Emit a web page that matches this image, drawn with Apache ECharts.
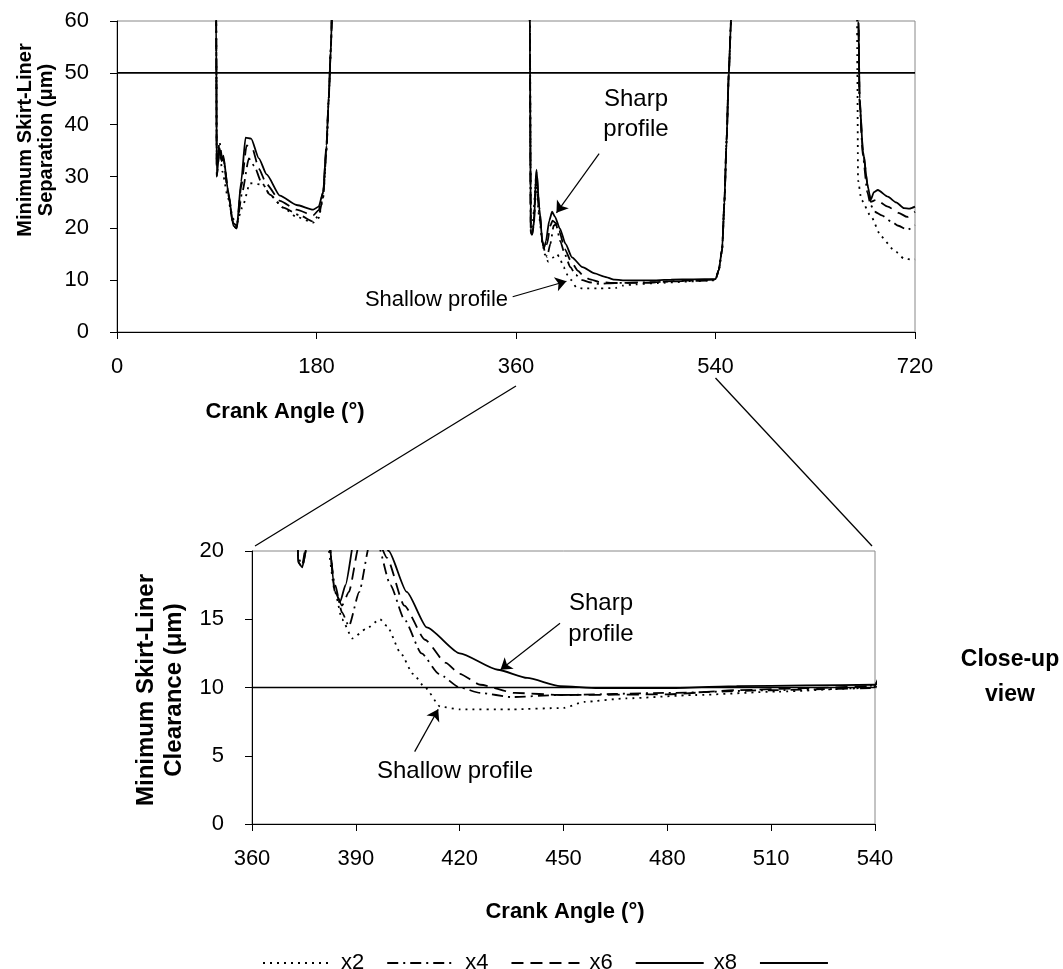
<!DOCTYPE html>
<html>
<head>
<meta charset="utf-8">
<script src="https://cdn.jsdelivr.net/npm/echarts@6/dist/echarts.min.js"></script>
<style>
  html, body { margin: 0; padding: 0; background: #fff; }
  #chart { width: 1063px; height: 969px; }
</style>
</head>
<body>
<div id="chart"></div>
<script>
// crank angle (deg) vs minimum skirt-liner separation (um)
// 100 = off the top of the scale
var x2Data = [
  [0,100],[88,100],[89.5,60],[90,33],[92.5,35],[95,31],[100,26],[104,22],[108,21],[113,24],[120,28.7],[132,28.4],[138,26.4],[150,24],[162,22.2],[177,21.1],[182,22],[186,26],[189,35],[191,45],[193,55],[195,70],[198,100],
  [366,100],[372.5,60],[373.5,20],[375,21],[378,29],[381,22],[384,17],[386,15],[389,13.6],[393,14.3],[397,15],[399,14.5],[403,12.5],[406.5,11],[410,10],[414.4,8.6],[420,8.4],[435,8.4],[450,8.5],[456,8.95],[468,9.2],[488,9.45],[512,9.7],[536,9.95],[540,10.2],[543,12],[546,16],[548,25],[550,37],[552,50],[554,60],[556,100],
  [667,100],[668,50],[668.6,29.3],[671.6,25.5],[680.5,22.2],[689.5,18.4],[701,15.8],[710,14.2],[718,13.9],[720,14]
];
var x4Data = [
  [0,100],[88,100],[89.5,60],[90,32],[92.5,36.7],[94.5,34],[97,32],[101,26],[105,21],[108,20.5],[113,27],[119,33.5],[124,32],[130,29],[138,26.5],[150,24],[165,22.5],[177,21.3],[182,22.5],[186,26],[189,35],[191,45],[193,55],[195,70],[198,100],
  [366,100],[372.5,60],[373.3,19.5],[374.5,19],[376,21],[378,30],[381,23],[384,17.5],[386,15.5],[388,14.5],[391,17],[394,20.5],[396,20.8],[400,17.5],[404,15],[409,12.5],[414,11],[420,10],[426,9.6],[435,9.3],[449,9.45],[480,9.6],[510,9.8],[540,9.95],[543,12],[546,16],[548,25],[550,37],[552,50],[554,60],[556,100],
  [668,100],[669,60],[670,44],[673,34],[677,27],[680,24.5],[683.6,23.2],[690,22.5],[698.7,21.3],[705,20.5],[713,19.7],[720,20.6]
];
var x6Data = [
  [0,100],[88,100],[89.5,60],[90,30],[92.5,35],[94.5,33],[96,33.5],[100,27],[105,20.5],[108,20],[112,28],[117,36],[122,35.5],[128,31.5],[135,28.5],[147,25.3],[162,23.6],[177,22.5],[182,23.5],[186,27],[189,36],[191,45],[193,55],[195,70],[198,100],
  [366,100],[372.5,60],[373.3,19.2],[374.5,18.8],[376,20.5],[378.5,31],[381,24],[384,17],[386,16],[388,17],[391,20.5],[393,21.5],[396,21],[399,19.5],[404,16],[410,13.5],[416,11.8],[420,11],[426,10.2],[436,9.6],[450,9.45],[480,9.5],[500,9.8],[520,9.95],[540,10.1],[543,12],[546,16],[548,25],[550,37],[552,50],[554,60],[556,100],
  [668,100],[669,60],[670,45],[673,35],[677.5,28],[680,25.1],[685,25.5],[695.5,24.2],[705,23],[713,22.2],[720,23.2]
];
var x8Data = [
  [0,100],[88,100],[89.5,60],[90,30],[92.5,35.5],[94.5,33],[96,34],[100,27.5],[105,20.5],[108,20],[112,29],[116,37.5],[121,37.3],[128,33.5],[135,30.4],[147,26.3],[162,24.5],[177,23.6],[182,24.2],[186,27],[189,36],[191,45],[193,55],[195,70],[198,100],
  [366,100],[372.5,60],[373.3,19.2],[374.5,18.8],[376,20.5],[378.5,31.3],[381,24],[384,17],[385.5,16.3],[387,17.5],[390,21.5],[392.6,23.2],[395,22.3],[399.5,20],[404.7,17],[410.5,14.4],[420,12.5],[431,11.3],[439.5,10.7],[449,10.1],[460,9.95],[480,9.95],[500,10.1],[520,10.15],[540,10.2],[543,12],[546,16],[548,25],[550,37],[552,50],[554,60],[556,100],
  [668,100],[669,60],[670,45],[673,35],[677.5,28],[680,25.5],[683,27],[686.5,27.4],[695.5,26.1],[703,25],[710,23.9],[715,23.8],[720,24.2]
];
// reference lines
var refTop = [[0,50],[720,50]];
var refClose = [[360,10],[540,10]];

// annotation arrows [from, to] in data units
var arrowsTop = [
  [[435,34.4],[396.5,23]],
  [[357,6.8],[405.5,9.8]]
];
var arrowsClose = [
  [[449,14.7],[431.8,11.3]],
  [[407,5.3],[413.8,8.4]]
];

var FONT = "'Liberation Sans', Arial, sans-serif";
var black = '#000';

var styles = {
  x2: { width: 1.8, type: [2, 5] },
  x4: { width: 1.8, type: [11, 5, 2, 5] },
  x6: { width: 1.8, type: [12, 7] },
  x8: { width: 1.8, type: 'solid' },
  ' ': { width: 1.6, type: 'solid' }
};

function lineSeries(name, data, gi) {
  return {
    name: name,
    type: 'line',
    xAxisIndex: gi,
    yAxisIndex: gi,
    data: data,
    symbol: 'none',
    smooth: 0.2,
    smoothMonotone: 'x',
    clip: true,
    silent: true,
    itemStyle: { color: black, opacity: 0 },
    lineStyle: { color: black, width: styles[name].width, type: styles[name].type }
  };
}

function arrowLines(list) {
  return list.map(function (a) {
    return [{ coord: a[0] }, { coord: a[1] }];
  });
}

function xAxisCfg(gi, min, max, step) {
  return {
    type: 'value', gridIndex: gi, min: min, max: max, interval: step,
    axisLine: { lineStyle: { color: black, width: 1 } },
    axisTick: { length: 7, lineStyle: { color: black } },
    axisLabel: { color: black, fontSize: 22, fontFamily: FONT, margin: 24 },
    splitLine: { show: false }
  };
}
function yAxisCfg(gi, min, max, step) {
  return {
    type: 'value', gridIndex: gi, min: min, max: max, interval: step,
    axisLine: { show: true, lineStyle: { color: black, width: 1 } },
    axisTick: { show: true, length: 7, lineStyle: { color: black } },
    axisLabel: { color: black, fontSize: 22, fontFamily: FONT, margin: 28 },
    splitLine: { show: false }
  };
}

var series = [
  lineSeries('x2', x2Data, 0),
  lineSeries('x4', x4Data, 0),
  lineSeries('x6', x6Data, 0),
  lineSeries('x8', x8Data, 0),
  lineSeries(' ', refTop, 0),
  lineSeries('x2', x2Data, 1),
  lineSeries('x4', x4Data, 1),
  lineSeries('x6', x6Data, 1),
  lineSeries('x8', x8Data, 1),
  lineSeries(' ', refClose, 1)
];
series[4].markLine = {
  silent: true, symbol: ['none', 'arrow'], symbolSize: 11,
  label: { show: false }, lineStyle: { color: black, width: 1.2, type: 'solid' },
  itemStyle: { color: black, opacity: 1 },
  data: arrowLines(arrowsTop)
};
series[9].markLine = {
  silent: true, symbol: ['none', 'arrow'], symbolSize: 11,
  label: { show: false }, lineStyle: { color: black, width: 1.2, type: 'solid' },
  itemStyle: { color: black, opacity: 1 },
  data: arrowLines(arrowsClose)
};

var chart = echarts.init(document.getElementById('chart'));
chart.setOption({
  animation: false,
  backgroundColor: '#fff',
  textStyle: { fontFamily: FONT },
  grid: [
    { left: 117, top: 21, width: 798, height: 311, show: true, borderColor: '#888', borderWidth: 1 },
    { left: 252, top: 551, width: 623, height: 273, show: true, borderColor: '#888', borderWidth: 1 }
  ],
  xAxis: [xAxisCfg(0, 0, 720, 180), xAxisCfg(1, 360, 540, 30)],
  yAxis: [yAxisCfg(0, 0, 60, 10), yAxisCfg(1, 0, 20, 5)],
  legend: {
    data: ['x2', 'x4', 'x6', 'x8', ' '],
    left: 257, top: 947,
    itemWidth: 68, itemHeight: 16, itemGap: 22,
    itemStyle: { opacity: 0 },
    textStyle: { color: black, fontSize: 22, fontFamily: FONT, padding: [0, 0, 0, 5] }
  },
  series: series
});

// decorations that depend on the axes
var p360 = chart.convertToPixel({ gridIndex: 0 }, [360, 0]);
var p540 = chart.convertToPixel({ gridIndex: 0 }, [540, 0]);
var c360 = chart.convertToPixel({ gridIndex: 1 }, [360, 20]);
var c540 = chart.convertToPixel({ gridIndex: 1 }, [540, 20]);

function txt(x, y, text, size, weight, align, rot, lh) {
  return {
    type: 'text', x: x, y: y, rotation: rot || 0, silent: true,
    style: {
      text: text, fill: black, fontSize: size, fontWeight: weight || 'normal',
      fontFamily: FONT, align: align || 'center', verticalAlign: 'middle',
      lineHeight: lh || size * 1.2
    }
  };
}

chart.setOption({
  graphic: [
    { type: 'line', silent: true, shape: { x1: p360[0], y1: p360[1] + 54, x2: c360[0] + 3, y2: c360[1] - 5 },
      style: { stroke: black, lineWidth: 1.3 } },
    { type: 'line', silent: true, shape: { x1: p540[0], y1: p540[1] + 46, x2: c540[0] - 3, y2: c540[1] - 5 },
      style: { stroke: black, lineWidth: 1.3 } },
    txt(36, 140, 'Minimum Skirt-Liner\nSeparation (\u03bcm)', 20, 'bold', 'center', Math.PI / 2, 21),
    txt(285, 412, 'Crank Angle (\u00b0)', 22, 'bold'),
    txt(160, 690, 'Minimum Skirt-Liner\nClearance (\u03bcm)', 24, 'bold', 'center', Math.PI / 2, 28),
    txt(565, 912, 'Crank Angle (\u00b0)', 22, 'bold'),
    txt(636, 114, 'Sharp\nprofile', 24, 'normal', 'center', 0, 30),
    txt(508, 300, 'Shallow profile', 22, 'normal', 'right'),
    txt(601, 619, 'Sharp\nprofile', 24, 'normal', 'center', 0, 31),
    txt(455, 771, 'Shallow profile', 24, 'normal'),
    txt(1010, 677, 'Close-up\nview', 23, 'bold', 'center', 0, 35)
  ]
});
</script>
</body>
</html>
